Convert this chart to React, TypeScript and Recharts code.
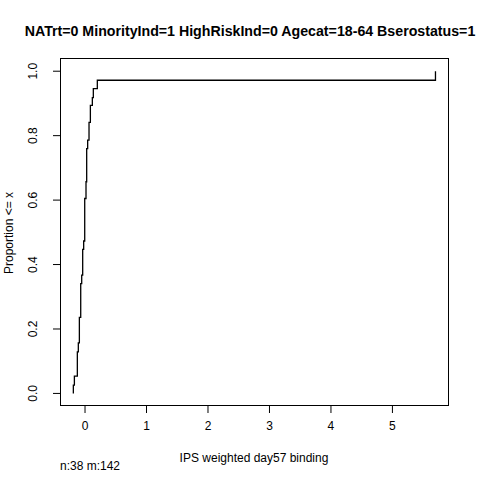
import React from "react";
import { ComposedChart, Line, XAxis, YAxis } from "recharts";

const xs = [-0.19, -0.19, -0.173, -0.125, -0.109, -0.092, -0.07, -0.054, -0.038, -0.022, -0.005, 0.016, 0.027, 0.043, 0.065, 0.087, 0.119, 0.135, 0.2, 5.7, 5.7];
const ys = [0, 0.026, 0.054, 0.129, 0.157, 0.236, 0.341, 0.367, 0.447, 0.473, 0.605, 0.657, 0.76, 0.786, 0.841, 0.894, 0.918, 0.946, 0.972, 0.972, 1.0];
const xTicks = [0, 1, 2, 3, 4, 5];
const yTicks = [0, 0.2, 0.4, 0.6, 0.8, 1.0];
const data = xs.map((x, i) => ({ x, y: ys[i] }));

const font = "Arial, 'Liberation Sans', sans-serif";

const YTick = (p: any) => (
  <text x={p.x - 14} y={p.y} transform={`rotate(-90 ${p.x - 14} ${p.y})`} textAnchor="middle" fontSize={12} fontFamily={font} fill="#000">
    {p.payload.value.toFixed(1)}
  </text>
);

export default function App() {
  return (
    <div style={{ position: "absolute", left: 0, top: 0, width: 480, height: 480, background: "#fff", fontFamily: font }}>
      <div style={{ position: "absolute", top: 23, left: 10, width: 480, textAlign: "center", fontWeight: "bold", fontSize: 14.2, whiteSpace: "nowrap" }}>
        NATrt=0 MinorityInd=1 HighRiskInd=0 Agecat=18-64 Bserostatus=1
      </div>
      <div style={{ position: "absolute", left: 60, top: 58, width: 389, height: 348, border: "1px solid #000", boxSizing: "border-box" }} />
      <ComposedChart width={480} height={480} data={data} margin={{ left: 20, right: 31, top: 58, bottom: 54 }}>
        <XAxis dataKey="x" type="number" domain={[-0.407, 5.92]} ticks={xTicks} allowDataOverflow height={20}
          axisLine={false} tickLine={{ stroke: "#000" }} tickSize={7}
          tick={{ fontSize: 12, fill: "#000", fontFamily: font, dy: 6 }} />
        <YAxis type="number" domain={[-0.039, 1.041]} ticks={yTicks} allowDataOverflow width={40}
          axisLine={false} tickLine={{ stroke: "#000" }} tickSize={7} tick={<YTick />} />
        <Line type="stepAfter" dataKey="y" stroke="#000" strokeWidth={1.3} dot={false} isAnimationActive={false} />
      </ComposedChart>
      <div style={{ position: "absolute", top: 451, width: 480, left: 14, textAlign: "center", fontSize: 12 }}>IPS weighted day57 binding</div>
      <div style={{ position: "absolute", top: 459, left: 60, fontSize: 12 }}>n:38 m:142</div>
      <div style={{ position: "absolute", left: 2, top: 232, fontSize: 12, transform: "rotate(-90deg)", transformOrigin: "left top", whiteSpace: "nowrap", marginTop: 42 }}>Proportion &lt;= x</div>
    </div>
  );
}
